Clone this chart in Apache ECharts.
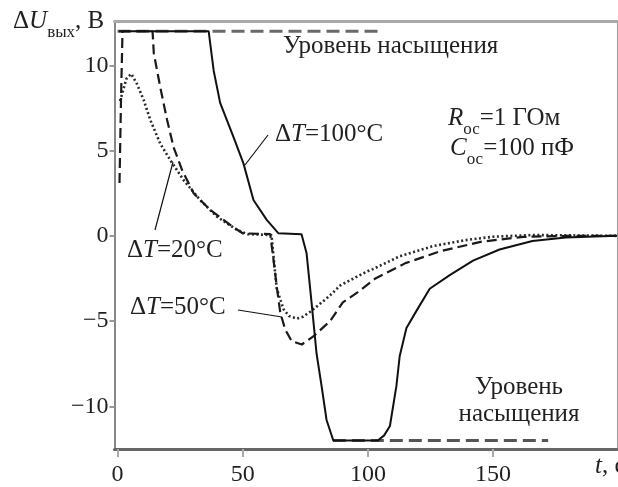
<!DOCTYPE html>
<html>
<head>
<meta charset="utf-8">
<script src="https://cdn.jsdelivr.net/npm/echarts@6/dist/echarts.min.js"></script>
<style>
html,body{margin:0;padding:0;background:#fff;}
#c{width:618px;height:487px;}
</style>
</head>
<body>
<div id="c"></div>
<script>
// ---- data (t in s, ΔU in V) ----
const xTicks = [0, 50, 100, 150];
const yTicks = [-10, -5, 0, 5, 10];

const dT100 = [[0.5,12],[36.4,12],[38.4,9.7],[41,7.8],[46.3,5.8],[50.3,4.25],[54.3,2.1],[59.6,0.94],[64.3,0.15],[73.5,0.1],[75.5,-1.0],[77.5,-3.9],[79.5,-6.9],[81.5,-8.8],[83.5,-10.8],[86.2,-12],[104,-12],[106.5,-11.7],[108.8,-11.15],[111.4,-8.8],[112.7,-7.06],[115.4,-5.4],[119.4,-4.4],[124.7,-3.1],[132.7,-2.3],[142,-1.45],[152.6,-0.8],[165.7,-0.3],[179,-0.1],[199.5,0]];

const dT50 = [[0.8,3.1],[1.4,8],[2,12],[14,12],[14.5,10.7],[17.1,8.7],[19.8,6.8],[22.4,5.2],[25.8,3.86],[30.4,2.5],[37,1.52],[46.3,0.5],[50,0.15],[61,0.1],[62.3,-1.4],[63.6,-2.96],[65,-4.5],[67,-5.5],[69.6,-6.18],[73.6,-6.37],[78.2,-5.9],[84.9,-5.0],[90,-3.9],[96,-3.3],[103,-2.5],[115,-1.6],[129,-0.9],[145,-0.35],[162,-0.06],[180,0],[199.5,0]];

const dT20 = [[1,7.9],[2,8.4],[3.5,9.2],[5.5,9.5],[7.8,8.9],[10.5,7.95],[13.1,6.8],[17.1,5.4],[21.1,4.44],[26.4,3.27],[33,2.1],[39.7,1.13],[47.7,0.35],[52,0.1],[61.5,0.05],[62.5,-1.5],[63.6,-3.1],[66.3,-4.3],[68.5,-4.7],[71.6,-4.85],[74,-4.75],[77,-4.45],[84.5,-3.55],[89,-2.9],[99.5,-2.1],[102,-1.95],[112.7,-1.2],[126,-0.6],[139,-0.25],[150,-0.05],[166,0.05],[199.5,0]];

const satTop = [[0,12],[106,12]];
const satBottom = [[86,-12],[172,-12]];

// ---- chart ----
const FF = 'Liberation Serif';
const TXT = '#231f20';
const chart = echarts.init(document.getElementById('c'));

const mctx = document.createElement('canvas').getContext('2d');
function fontStr(fs, it){ return (it ? 'italic ' : '') + fs + 'px "' + FF + '"'; }
function measure(t, fs, it){ mctx.font = fontStr(fs, it); return mctx.measureText(t).width; }

// pieces: {t, it, sub}; places text on a baseline
function run(x, base, pieces, fs, subFs, subDy, center){
  const widths = pieces.map(p => measure(p.t, p.sub ? subFs : fs, p.it));
  let total = widths.reduce((a,b)=>a+b,0);
  let cx = center ? x - total/2 : x;
  const els = [];
  pieces.forEach((p,k) => {
    const f = p.sub ? subFs : fs;
    const b = base + (p.sub ? subDy : 0);
    els.push({type:'text',x:cx,y:b - 0.3375*f,silent:true,z:100,
      style:{text:p.t,fill:TXT,font:fontStr(f,p.it),
        align:'left',verticalAlign:'middle',textAlign:'left',textVerticalAlign:'middle'}});
    cx += widths[k];
  });
  return els;
}
function leader(x1,y1,x2,y2){
  return {type:'line',silent:true,z:100,shape:{x1:x1,y1:y1,x2:x2,y2:y2},style:{stroke:'#111',lineWidth:1.2}};
}

const minus = v => v < 0 ? '\u2212' + (-v) : String(v);
const AF = 25;

const graphics = [].concat(
  run(13, 30, [{t:'\u0394'},{t:'U',it:true},{t:'вых',sub:true},{t:', В'}], 25, 17, 8),
  run(283, 55, [{t:'Уровень насыщения'}], AF),
  run(275, 143, [{t:'\u0394'},{t:'T',it:true},{t:'=100\u00b0C'}], AF),
  run(127, 259, [{t:'\u0394'},{t:'T',it:true},{t:'=20\u00b0C'}], AF),
  run(130, 316, [{t:'\u0394'},{t:'T',it:true},{t:'=50\u00b0C'}], AF),
  run(448, 127, [{t:'R',it:true},{t:'ос',sub:true},{t:'=1 ГОм'}], AF, 17, 8),
  run(450, 157, [{t:'C',it:true},{t:'ос',sub:true},{t:'=100 пФ'}], AF, 17, 8),
  run(519, 396, [{t:'Уровень'}], AF, 0, 0, true),
  run(519, 423, [{t:'насыщения'}], AF, 0, 0, true),
  run(595, 475, [{t:'t',it:true},{t:', с'}], AF),
  [leader(268,135,245,165), leader(155,230,173,162), leader(238,310,282,317)]
);

chart.setOption({
  animation:false,
  backgroundColor:'#fff',
  grid:{left:114.5,right:1,top:21,bottom:37},
  xAxis:[{
    type:'value',min:-1.2,max:199.5,
    axisLine:{onZero:false,lineStyle:{color:'#666',width:3}},
    axisTick:{customValues:xTicks,length:8,lineStyle:{color:'#aaa',width:2}},
    axisLabel:{customValues:xTicks,fontSize:24,fontFamily:FF,color:TXT,margin:14},
    splitLine:{show:false}
  },{
    type:'value',position:'top',min:-1.2,max:199.5,
    axisLine:{onZero:false,lineStyle:{color:'#aaa',width:3}},
    axisTick:{show:false},axisLabel:{show:false},splitLine:{show:false}
  }],
  yAxis:[{
    type:'value',min:-12.5,max:12.6,
    axisLine:{onZero:false,lineStyle:{color:'#888',width:2}},
    axisTick:{customValues:yTicks,length:5,lineStyle:{color:'#999',width:2}},
    axisLabel:{customValues:yTicks,fontSize:24,fontFamily:FF,color:TXT,margin:6,formatter:minus},
    splitLine:{show:false}
  },{
    type:'value',position:'right',min:-12.5,max:12.6,
    axisLine:{onZero:false,lineStyle:{color:'#999',width:1}},
    axisTick:{show:false},axisLabel:{show:false},splitLine:{show:false}
  }],
  series:[
    {type:'line',data:satTop,symbol:'none',z:1,lineStyle:{color:'#6a6a6a',width:3,type:[13,6]}},
    {type:'line',data:satBottom,symbol:'none',z:1,lineStyle:{color:'#555',width:3,type:[13,6]}},
    {type:'line',data:dT20,symbol:'none',z:2,lineStyle:{color:'#2a2a2a',width:2.6,type:[2,2.5]}},
    {type:'line',data:dT50,symbol:'none',z:3,lineStyle:{color:'#1a1a1a',width:2.2,type:[10,5]}},
    {type:'line',data:dT100,symbol:'none',z:4,lineStyle:{color:'#111',width:2}}
  ],
  graphic:graphics
});
</script>
</body>
</html>
